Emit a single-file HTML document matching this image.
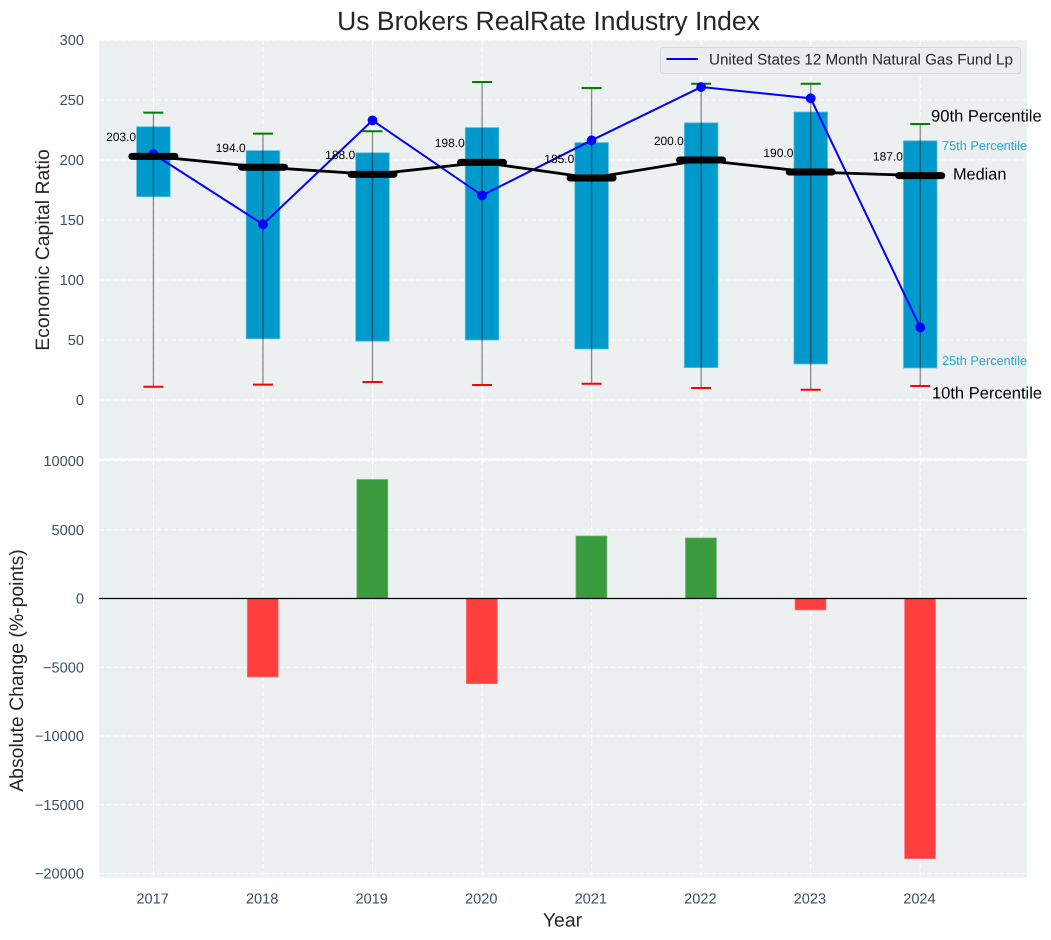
<!DOCTYPE html>
<html lang="en">
<head>
<meta charset="utf-8">
<title>Us Brokers RealRate Industry Index</title>
<style>
html,body{margin:0;padding:0;background:#fff;width:1051px;height:940px;overflow:hidden}
svg{display:block;font-family:"Liberation Sans",Arial,sans-serif;text-rendering:geometricPrecision}
</style>
</head>
<body>
<svg id="chart" width="1051" height="940" viewBox="0 0 1051 940" xmlns="http://www.w3.org/2000/svg"></svg>
<script>
const years = [2017, 2018, 2019, 2020, 2021, 2022, 2023, 2024];
const p10 = [11, 12.8, 15, 12.5, 13.5, 10, 8.5, 11.7];
const p25 = [169.4, 51, 49, 50, 42.5, 27, 30, 26.7];
const medians = [203, 194, 188, 198, 185, 200, 190, 187];
const p75 = [227.7, 207.8, 206, 227, 214.5, 231, 240, 216];
const p90 = [239.5, 222, 224, 265, 260, 263.5, 263.5, 230];
const fundValues = [205, 146.4, 233, 170.5, 216.4, 260.8, 251.4, 60.5];
const absoluteChange = [0, -5700, 8650, -6190, 4540, 4400, -826, -18913];
const topTicks = [0, 50, 100, 150, 200, 250, 300];
const bottomTicks = [-20000, -15000, -10000, -5000, 0, 5000, 10000];

const NS = 'http://www.w3.org/2000/svg';
const svg = document.getElementById('chart');
const TICK = '#3b4f66';
const INK = '#262626';

function px(v) { return 153.4 + (v - 2017) * 109.55; }
function topY(v) { return 400 - v * 1.2; }
function botY(v) { return 598.5 - v * 0.01375; }

function make(tag, attrs, text) {
  const el = document.createElementNS(NS, tag);
  for (const k in attrs) el.setAttribute(k, attrs[k]);
  if (text !== undefined) el.textContent = text;
  svg.appendChild(el);
  return el;
}
function label(name, x, y, str, size, fill, anchor, extra) {
  const el = make('text', Object.assign({x: x, y: y, 'font-size': size, fill: fill, 'text-anchor': anchor || 'start', 'dominant-baseline': 'central'}, extra || {}), str);
  
  
  return el;
}
function fmt(v) { return String(v).replace('-', '\u2212'); }

const topPanel = make('rect', {x: 99, y: 40, width: 928, height: 419, fill: '#ecf0f1'});


const botPanel = make('rect', {x: 99, y: 460.5, width: 928, height: 417, fill: '#ecf0f1'});



/* gridlines */
const gridStyle = {stroke: '#ffffff', 'stroke-width': 1.1, 'stroke-dasharray': '5 2.2', opacity: 0.95};
topTicks.forEach(function (t) {
  const g = make('line', Object.assign({x1: 99, x2: 1027, y1: topY(t), y2: topY(t)}, gridStyle));
  
  
  label('top-y-tick-label', 84, topY(t) + 1, fmt(t), 14.6, TICK, 'end');
});
bottomTicks.forEach(function (t) {
  const g = make('line', Object.assign({x1: 99, x2: 1027, y1: botY(t), y2: botY(t)}, gridStyle));
  
  
  label('bottom-y-tick-label', 84, botY(t) + 1, fmt(t), 14.6, TICK, 'end');
});
years.forEach(function (yr) {
  const a = make('line', Object.assign({x1: px(yr), x2: px(yr), y1: 40, y2: 459}, gridStyle));
  
  
  const b = make('line', Object.assign({x1: px(yr), x2: px(yr), y1: 460.5, y2: 877.5}, gridStyle));
  
  
  label('x-tick-label', px(yr) - 0.8, 899.6, String(yr), 14.6, TICK, 'middle');
});

/* separator between panels */
const sep = make('line', {x1: 99, x2: 1027, y1: 459.4, y2: 459.4, stroke: '#ffffff', 'stroke-width': 2});



/* boxes, whiskers, caps */
years.forEach(function (yr, i) {
  const x = px(yr);
  const box = make('rect', {x: x - 16.8, y: topY(p75[i]), width: 33.6, height: topY(p25[i]) - topY(p75[i]), fill: '#0099cc', stroke: '#5cbfdf', 'stroke-width': 0.8});
  
  
  const w = make('line', {x1: x, x2: x, y1: topY(p90[i]), y2: topY(p10[i]), stroke: '#000000', 'stroke-opacity': 0.45, 'stroke-width': 1.3});
  
  
  const hi = make('line', {x1: x - 10, x2: x + 10, y1: topY(p90[i]), y2: topY(p90[i]), stroke: '#008000', 'stroke-width': 2});
  
  
  const lo = make('line', {x1: x - 10, x2: x + 10, y1: topY(p10[i]), y2: topY(p10[i]), stroke: '#ff0000', 'stroke-width': 2});
  
  
});

/* fund line */
const fundLine = make('polyline', {points: years.map(function (yr, i) { return px(yr) + ',' + topY(fundValues[i]); }).join(' '), fill: 'none', stroke: '#0000ff', 'stroke-width': 2});


years.forEach(function (yr, i) {
  const dot = make('circle', {cx: px(yr), cy: topY(fundValues[i]), r: 4.9, fill: '#0000ff'});
  
  
});

/* medians */
const medianLine = make('polyline', {points: years.map(function (yr, i) { return px(yr) + ',' + topY(medians[i]); }).join(' '), fill: 'none', stroke: '#000000', 'stroke-width': 2.8});


years.forEach(function (yr, i) {
  const m = make('line', {x1: px(yr) - 21.5, x2: px(yr) + 21.5, y1: topY(medians[i]), y2: topY(medians[i]), stroke: '#000000', 'stroke-width': 7, 'stroke-linecap': 'round'});
  
  
  label('median-value-' + yr, px(yr) - 17.3, topY(medians[i]) - 19.2, medians[i].toFixed(1), 12, '#000000', 'end');
});

/* bars */
years.forEach(function (yr, i) {
  const v = absoluteChange[i];
  if (v === 0) return;
  const y0 = botY(Math.max(v, 0));
  const y1 = botY(Math.min(v, 0));
  const pos = v > 0;
  const b = make('rect', {x: px(yr) - 15.6, y: y0, width: 30.8, height: y1 - y0, fill: pos ? '#3a9c3e' : '#ff3e3e', stroke: pos ? '#63ae66' : '#ff6a6a', 'stroke-width': 0.8});
  
  
});
const zero = make('line', {x1: 99, x2: 1027, y1: botY(0), y2: botY(0), stroke: '#000000', 'stroke-width': 1.2});



/* percentile annotations */
label('p90-annotation', 931, 116, '90th Percentile', 16.6, '#000000');
label('p75-annotation', 942, 145.5, '75th Percentile', 12.75, '#26a3d1');
label('median-annotation', 953, 174.5, 'Median', 16.3, '#000000');
label('p25-annotation', 942, 360.5, '25th Percentile', 12.75, '#26a3d1');
label('p10-annotation', 932, 393.5, '10th Percentile', 16.5, '#000000');

/* legend */
const legendBox = make('rect', {x: 660.5, y: 47.5, width: 360, height: 26, rx: 3, fill: '#ebedf1', stroke: '#d4d7db', 'stroke-width': 1});


const legendLine = make('line', {x1: 666.5, x2: 698, y1: 59, y2: 59, stroke: '#0000ff', 'stroke-width': 2});


label('legend-label', 709, 60, 'United States 12 Month Natural Gas Fund Lp', 15.2, INK);

/* titles */
label('chart-title', 548.5, 21, 'Us Brokers RealRate Industry Index', 26.5, INK, 'middle');
label('x-axis-title', 562.5, 920.5, 'Year', 19.4, INK, 'middle');
label('top-y-axis-title', 43, 250, 'Economic Capital Ratio', 19.4, INK, 'middle', {transform: 'rotate(-90 43 250)'});
label('bottom-y-axis-title', 17, 670.5, 'Absolute Change (%-points)', 19.4, INK, 'middle', {transform: 'rotate(-90 17 670.5)'});
</script>
</body>
</html>
